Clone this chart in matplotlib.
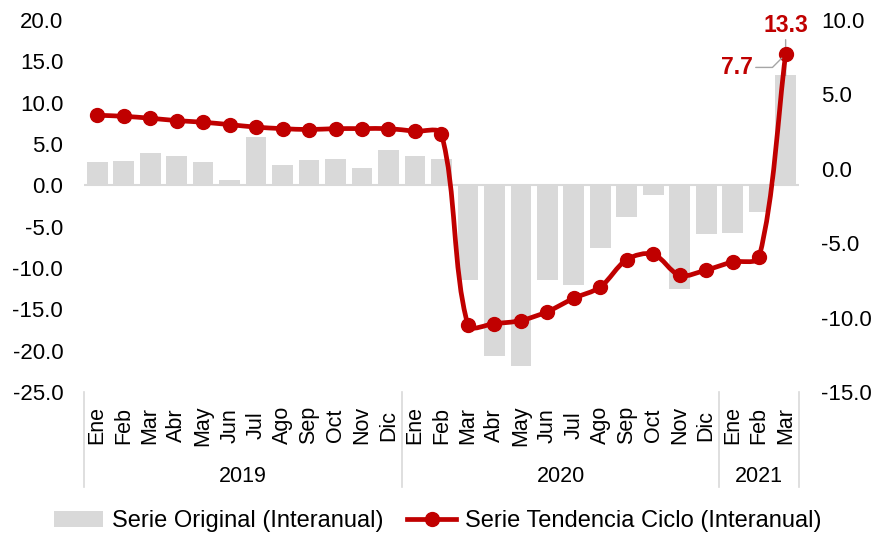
import numpy as np
import matplotlib
matplotlib.use("Agg")
import matplotlib.pyplot as plt
from matplotlib.path import Path
from matplotlib.patches import PathPatch, Patch
from matplotlib.lines import Line2D
import matplotlib.transforms as mtransforms

plt.rcParams['font.family'] = ['Liberation Sans', 'DejaVu Sans']

# datos
months = ['Ene', 'Feb', 'Mar', 'Abr', 'May', 'Jun', 'Jul', 'Ago', 'Sep', 'Oct', 'Nov', 'Dic',
          'Ene', 'Feb', 'Mar', 'Abr', 'May', 'Jun', 'Jul', 'Ago', 'Sep', 'Oct', 'Nov', 'Dic',
          'Ene', 'Feb', 'Mar']
years = ['2019', '2020', '2021']
year_counts = [12, 12, 3]
serie_original = [2.8, 3.0, 3.9, 3.5, 2.8, 0.6, 5.8, 2.5, 3.1, 3.2, 2.1, 4.3,
                  3.5, 3.2, -11.4, -20.6, -21.9, -11.5, -12.1, -7.6, -3.8, -1.2, -12.5, -5.9,
                  -5.8, -3.2, 13.3]
serie_tendencia = [3.6, 3.53, 3.4, 3.24, 3.13, 2.97, 2.8, 2.7, 2.64, 2.7, 2.7, 2.7,
                   2.52, 2.34, -10.5, -10.4, -10.2, -9.6, -8.7, -7.95, -6.1, -5.74, -7.16, -6.8,
                   -6.26, -5.93, 7.7]

GRAY = '#D9D9D9'
RED = '#C00000'


def smooth_path(xs, ys, sx, sy, k=0.3):
    """Curva suavizada tipo Excel (Bezier) en coordenadas de pantalla."""
    px = np.asarray(xs, float) * sx
    py = np.asarray(ys, float) * sy
    n = len(px)
    tang = []
    for j in range(n):
        a = max(j - 1, 0)
        b = min(j + 1, n - 1)
        t = np.array([px[b] - px[a], py[b] - py[a]])
        tang.append(t / np.hypot(*t))
    verts = [(px[0] / sx, py[0] / sy)]
    codes = [Path.MOVETO]
    for i in range(n - 1):
        d = np.hypot(px[i + 1] - px[i], py[i + 1] - py[i])
        c1 = np.array([px[i], py[i]]) + tang[i] * d * k
        c2 = np.array([px[i + 1], py[i + 1]]) - tang[i + 1] * d * k
        verts += [(c1[0] / sx, c1[1] / sy), (c2[0] / sx, c2[1] / sy),
                  (px[i + 1] / sx, py[i + 1] / sy)]
        codes += [Path.CURVE4] * 3
    return Path(verts, codes)


fig = plt.figure(figsize=(8.75, 5.35), dpi=100)
ax = fig.add_axes([0.096, 0.2673, 0.817, 0.6953])
ax2 = ax.twinx()

x = np.arange(len(months))

# barras
ax.bar(x, serie_original, width=0.78, color=GRAY, zorder=2)
ax.axhline(0, color=GRAY, lw=1.5, zorder=1)
ax.set_ylim(-25, 20)
ax.set_yticks(np.arange(-25, 21, 5))
ax.set_yticklabels([f'{v:.1f}' for v in np.arange(-25, 21, 5)])
ax.set_xlim(-0.5, len(months) - 0.5)

# linea tendencia
ax2.set_ylim(-15, 10)
ax2.set_yticks(np.arange(-15, 11, 5))
ax2.set_yticklabels([f'{v:.1f}' for v in np.arange(-15, 11, 5)])
w_px = fig.get_figwidth() * fig.dpi * 0.817
h_px = fig.get_figheight() * fig.dpi * 0.6953
sx = w_px / len(months)
sy = h_px / 25.0
path = smooth_path(x, serie_tendencia, sx, sy)
ax2.add_patch(PathPatch(path, facecolor='none', edgecolor=RED, lw=3.4,
                        capstyle='round', joinstyle='round', zorder=3))
ax2.plot(x, serie_tendencia, 'o', color=RED, ms=10, zorder=4)

for a in (ax, ax2):
    for s in a.spines.values():
        s.set_visible(False)
    a.tick_params(length=0, labelsize=16)
ax.tick_params(axis='y', pad=15)
ax2.tick_params(axis='y', pad=16)

ax.set_xticks(x)
ax.set_xticklabels(months, rotation=90, va='center', ha='center', fontsize=15.5)
ax.tick_params(axis='x', pad=24)

# separadores y años
trans = mtransforms.blended_transform_factory(ax.transData, ax.transAxes)
edges = np.concatenate([[0], np.cumsum(year_counts)]) - 0.5
for e in edges:
    ax.plot([e, e], [0, -0.255], transform=trans, color=GRAY, lw=1.2, clip_on=False)
for i, yr in enumerate(years):
    ax.text((edges[i] + edges[i + 1]) / 2, -0.228, yr, transform=trans,
            ha='center', va='center', fontsize=15.5)

# etiquetas del ultimo dato
ax.annotate(f'{serie_original[-1]:.1f}', xy=(x[-1], serie_original[-1]),
            xytext=(0, 36), textcoords='offset points', ha='center', va='center',
            fontsize=16.5, fontweight='bold', color=RED,
            arrowprops=dict(arrowstyle='-', color='#A6A6A6', lw=1, shrinkA=0, shrinkB=0))
ax2.annotate(f'{serie_tendencia[-1]:.1f}', xy=(x[-1], serie_tendencia[-1]),
             xytext=(-35, -9.5), textcoords='offset points', ha='center', va='center',
             fontsize=16.5, fontweight='bold', color=RED, zorder=5,
             arrowprops=dict(arrowstyle='-', color='#A6A6A6', lw=1, shrinkA=0, shrinkB=4,
                             relpos=(1, 0.5), connectionstyle='angle,angleA=0,angleB=45,rad=0'))

handles = [Patch(facecolor=GRAY, edgecolor='none'),
           Line2D([], [], color=RED, lw=3.4, marker='o', ms=10)]
labels = ['Serie Original (Interanual)', 'Serie Tendencia Ciclo (Interanual)']
fig.legend(handles, labels, loc='center', bbox_to_anchor=(0.5, 0.026), ncol=2,
           frameon=False, fontsize=17, handlelength=2.1, handletextpad=0.35,
           columnspacing=1.0, borderaxespad=0)

fig.savefig('out.png', dpi=100)
